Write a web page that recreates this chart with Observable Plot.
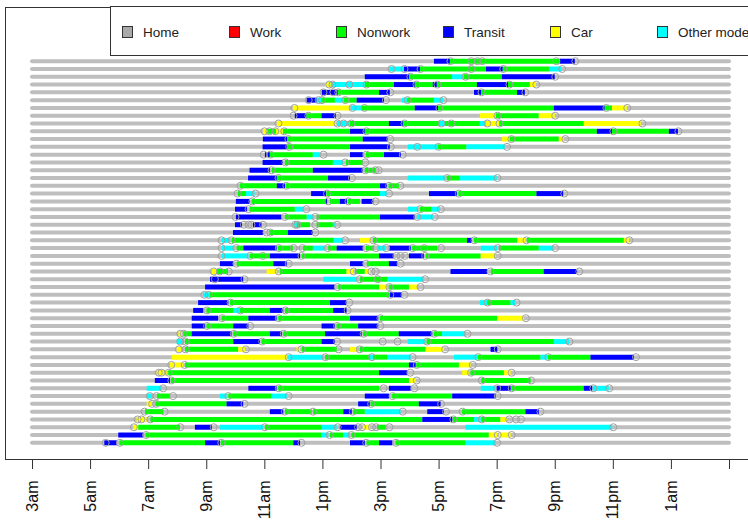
<!DOCTYPE html>
<html><head><meta charset="utf-8">
<script src="https://cdn.jsdelivr.net/npm/d3@7"></script>
<script src="https://cdn.jsdelivr.net/npm/@observablehq/plot@0.6"></script>
<style>
html,body{margin:0;padding:0;background:#fff;overflow:hidden;}
#wrap{position:relative;width:748px;height:520px;overflow:hidden;font-family:"Liberation Sans",Arial,sans-serif;}
#legend{position:absolute;left:110px;top:6px;height:50px;width:720px;border:1px solid #333;background:#fff;display:flex;align-items:center;padding-left:11px;padding-top:2px;box-sizing:border-box;}
.item{display:flex;align-items:center;width:107px;flex:none;font-size:13.5px;color:#222;white-space:nowrap;}
.sw{width:11px;height:12px;border:1px solid #333;box-sizing:border-box;margin-right:10px;flex:none;}
</style></head>
<body><div id="wrap"></div>
<script>
const dayStart = 3, dayEnd = 27;
const tickHours = [3,5,7,9,11,13,15,17,19,21,23,25,27];
const tickLabels = ["3am","5am","7am","9am","11am","1pm","3pm","5pm","7pm","9pm","11pm","1am",""];
const modeCodes = ["H","W","N","T","C","O"];
const modeNames = ["Home","Work","Nonwork","Transit","Car","Other mode"];
const modeColors = ["#a9a9a9","#ff0000","#00ff00","#0000ff","#ffff00","#00ffff"];
const homeBarColor = "#bebebe";

// one entry per person (top to bottom): [start hour, end hour, mode]
const segments = [
 [[16.84,17.39,"T"],[17.39,21.18,"N"],[21.18,21.69,"T"]],
 [[15.32,15.81,"O"],[15.81,16.36,"T"],[16.36,18.63,"N"],[18.63,19.21,"T"],[19.21,20.80,"N"],[20.80,21.24,"O"]],
 [[14.46,15.98,"T"],[15.98,17.46,"N"],[17.46,17.87,"O"],[17.87,19.18,"N"],[19.18,21.00,"T"]],
 [[13.09,13.29,"C"],[13.29,14.46,"O"],[14.46,15.46,"N"],[15.46,16.18,"T"],[16.18,16.80,"N"],[16.80,16.94,"T"],[16.94,18.32,"N"],[18.32,19.39,"T"],[19.39,20.14,"N"],[20.14,20.35,"C"]],
 [[12.98,13.53,"T"],[13.53,14.95,"N"],[14.95,15.32,"T"],[18.22,18.46,"T"],[18.46,19.70,"N"],[19.70,19.97,"T"]],
 [[12.46,12.80,"T"],[12.80,12.97,"O"],[12.97,13.43,"N"],[13.43,13.74,"O"],[13.74,14.18,"N"],[14.18,15.12,"T"],[15.74,15.91,"O"],[15.91,16.84,"N"],[16.84,17.15,"O"]],
 [[11.98,13.95,"C"],[13.98,14.36,"O"],[14.36,16.18,"N"],[16.18,16.98,"T"],[16.98,20.97,"N"],[20.97,22.72,"T"],[22.72,22.97,"N"],[22.97,23.48,"C"]],
 [[12.05,12.45,"T"],[12.45,12.97,"N"],[12.97,13.46,"T"],[18.42,18.97,"C"],[18.97,20.45,"N"],[20.45,21.00,"C"]],
 [[11.43,13.46,"C"],[13.50,13.95,"O"],[13.95,15.29,"N"],[15.29,15.77,"T"],[15.77,17.04,"N"],[17.04,17.22,"O"],[17.22,18.42,"N"],[18.42,18.63,"O"],[18.63,19.08,"C"],[19.08,22.00,"N"],[22.00,23.96,"C"]],
 [[10.95,11.12,"C"],[11.12,11.40,"N"],[11.40,11.64,"C"],[11.64,13.95,"N"],[13.95,14.46,"T"],[14.46,22.45,"N"],[22.45,22.97,"T"],[22.97,24.93,"N"],[24.93,25.24,"T"]],
 [[10.95,11.78,"T"],[11.78,14.39,"N"],[14.39,15.25,"T"],[19.18,19.45,"C"],[19.45,21.14,"N"],[21.14,21.31,"C"]],
 [[10.94,11.79,"T"],[11.79,13.95,"N"],[13.95,15.32,"T"],[15.94,16.98,"O"],[16.98,17.96,"N"],[17.96,19.28,"O"]],
 [[11.02,11.19,"T"],[11.19,12.67,"N"],[12.67,12.91,"O"],[13.95,14.39,"T"],[14.50,15.12,"N"],[15.12,15.70,"T"]],
 [[10.94,11.64,"T"],[11.71,13.36,"N"],[13.36,13.71,"O"],[13.81,14.39,"N"]],
 [[10.49,11.19,"T"],[11.26,12.67,"N"],[12.67,14.39,"T"],[14.46,14.84,"N"]],
 [[10.44,11.43,"T"],[11.43,13.19,"N"],[13.19,13.95,"T"],[15.94,17.22,"O"],[17.28,17.73,"N"],[17.73,19.00,"O"]],
 [[10.16,11.43,"N"],[11.43,11.71,"T"],[11.74,14.98,"N"],[14.98,15.22,"T"],[15.28,15.63,"N"]],
 [[10.09,10.37,"N"],[10.37,10.66,"O"],[12.61,13.12,"T"],[13.14,14.98,"N"],[14.98,15.22,"O"],[16.67,17.63,"T"],[17.68,20.37,"N"],[20.37,21.29,"T"]],
 [[10.02,10.50,"T"],[10.57,13.10,"N"],[13.10,13.16,"T"],[13.26,13.60,"N"],[13.60,13.84,"T"],[13.88,14.29,"N"],[14.35,14.75,"T"]],
 [[9.99,10.40,"T"],[10.50,12.05,"N"],[12.05,12.33,"O"],[15.94,16.29,"O"],[16.36,16.76,"N"],[16.76,17.04,"O"]],
 [[10.02,11.59,"T"],[11.71,12.46,"N"],[12.46,12.69,"O"],[12.80,14.98,"N"],[14.98,16.18,"T"],[16.25,16.81,"O"]],
 [[9.99,10.23,"T"],[10.61,10.90,"T"],[12.02,12.12,"O"],[12.12,12.57,"N"],[12.80,13.36,"N"],[13.36,13.46,"O"]],
 [[9.92,10.95,"T"],[11.19,11.81,"N"],[11.81,12.67,"T"]],
 [[9.54,9.82,"O"],[9.88,13.37,"N"],[13.37,13.71,"O"],[14.29,14.69,"C"],[14.74,17.98,"N"],[17.98,18.15,"T"],[18.22,19.71,"N"],[19.71,19.99,"C"],[20.04,23.38,"N"],[23.38,23.55,"C"]],
 [[9.54,9.93,"O"],[10.05,10.28,"N"],[10.28,11.42,"T"],[11.47,11.98,"N"],[12.33,12.67,"N"],[12.67,13.09,"O"],[13.20,13.49,"N"],[13.49,14.40,"T"],[14.50,14.77,"N"],[14.88,15.18,"O"],[15.29,16.04,"T"],[16.09,16.95,"N"],[18.45,19.02,"O"],[19.08,20.45,"N"],[20.45,20.97,"O"]],
 [[9.54,10.45,"O"],[10.50,11.19,"N"],[11.19,12.23,"T"],[12.29,14.95,"N"],[14.95,15.46,"T"],[15.98,16.49,"T"],[16.56,18.45,"N"],[18.45,18.96,"C"]],
 [[9.47,9.93,"T"],[10.05,11.31,"N"],[11.31,11.77,"T"],[13.95,14.40,"T"],[14.53,15.29,"N"],[15.29,15.58,"T"]],
 [[9.19,9.36,"C"],[9.37,9.75,"N"],[11.08,11.42,"C"],[11.54,13.83,"N"],[13.83,14.06,"C"],[14.12,14.46,"N"],[14.46,14.64,"C"],[17.41,18.67,"T"],[18.80,20.62,"N"],[20.62,21.77,"T"]],
 [[9.13,10.27,"T"],[13.03,14.18,"O"],[14.29,15.23,"N"],[15.23,16.49,"O"]],
 [[8.96,13.43,"T"],[13.54,14.95,"N"],[14.95,15.23,"C"],[15.29,15.98,"N"],[15.98,16.26,"C"]],
 [[8.90,9.13,"O"],[9.13,15.29,"N"],[15.32,15.74,"T"]],
 [[8.72,9.76,"T"],[9.82,13.26,"N"],[13.26,13.83,"T"],[18.42,18.67,"O"],[18.67,19.48,"N"],[19.48,19.65,"O"]],
 [[8.55,8.90,"T"],[9.01,9.93,"N"],[9.93,10.16,"O"],[10.16,11.19,"N"],[11.19,11.65,"T"],[11.71,13.37,"N"],[13.37,13.83,"T"]],
 [[8.50,9.41,"T"],[9.53,10.45,"N"],[10.45,11.42,"T"],[11.48,13.95,"N"],[13.95,14.92,"T"],[14.98,19.02,"N"],[19.02,19.94,"C"]],
 [[8.50,8.96,"T"],[9.01,9.93,"N"],[9.93,10.45,"T"],[12.97,13.43,"T"],[13.49,14.23,"N"],[14.23,14.92,"T"]],
 [[8.04,8.16,"C"],[8.21,8.50,"N"],[8.50,9.87,"T"],[9.93,11.19,"N"],[11.19,11.60,"T"],[11.65,13.09,"N"],[13.09,14.35,"T"],[14.40,15.63,"N"],[15.63,16.78,"T"],[16.84,17.12,"N"],[17.12,17.93,"O"]],
 [[7.98,8.19,"O"],[8.27,9.93,"N"],[9.93,10.85,"T"],[10.91,12.97,"N"],[12.97,13.43,"T"],[15.94,16.55,"O"],[16.59,20.97,"N"],[20.97,21.49,"O"]],
 [[7.98,8.16,"C"],[8.27,10.10,"N"],[10.10,10.33,"C"],[12.11,12.23,"C"],[12.29,13.49,"N"],[13.95,14.18,"C"],[14.29,16.55,"N"],[16.55,17.18,"C"],[18.79,19.02,"T"]],
 [[7.81,11.77,"C"],[11.82,13.03,"O"],[13.09,14.64,"N"],[14.64,14.74,"O"],[14.74,15.23,"N"],[15.23,16.04,"O"],[17.53,18.33,"O"],[18.35,20.51,"N"],[20.51,20.74,"O"],[20.76,22.23,"N"],[22.23,23.72,"T"]],
 [[7.75,8.21,"C"],[8.27,15.98,"N"],[15.98,16.21,"T"],[16.23,17.70,"N"],[17.70,18.10,"C"]],
 [[7.29,7.64,"C"],[7.69,14.95,"N"],[14.95,15.92,"T"],[17.81,18.04,"C"],[18.10,19.25,"N"],[19.25,19.48,"C"]],
 [[7.23,7.75,"T"],[7.78,15.98,"N"],[15.98,16.21,"C"],[18.47,20.17,"N"]],
 [[6.95,7.46,"O"],[10.45,11.42,"T"],[11.48,14.95,"N"],[15.29,16.04,"T"],[18.45,18.96,"O"],[19.00,19.48,"T"],[19.50,22.00,"N"],[22.00,22.29,"T"],[22.31,22.86,"O"]],
 [[6.95,7.12,"O"],[7.30,7.75,"N"],[9.47,9.70,"O"],[9.76,11.25,"N"],[11.25,11.77,"O"],[14.46,15.29,"T"],[15.40,17.47,"N"],[17.47,18.96,"T"]],
 [[6.95,7.12,"C"],[7.26,9.70,"N"],[9.70,10.27,"T"],[14.23,14.63,"T"],[14.66,16.32,"N"],[16.32,17.07,"T"]],
 [[6.89,7.52,"N"],[11.19,11.65,"T"],[11.71,12.63,"N"],[12.68,13.72,"N"],[13.72,14.01,"T"],[14.06,14.46,"N"],[14.46,15.69,"O"],[16.61,17.18,"T"],[17.81,19.99,"N"],[19.99,20.45,"T"]],
 [[6.60,6.95,"C"],[7.08,16.44,"N"],[16.44,17.47,"T"],[17.49,18.22,"N"],[18.22,18.45,"O"],[18.47,19.13,"N"],[19.13,19.36,"C"]],
 [[6.49,6.66,"C"],[6.66,8.09,"N"],[8.61,9.19,"T"],[9.47,10.96,"O"],[11.02,12.97,"N"],[12.97,13.49,"O"],[13.60,14.18,"T"],[14.40,14.64,"C"],[14.88,15.18,"N"],[17.93,22.98,"O"]],
 [[5.97,6.83,"T"],[6.91,12.97,"N"],[12.97,13.20,"O"],[13.26,13.72,"N"],[13.72,13.95,"O"],[14.00,18.73,"N"],[18.73,19.02,"C"],[19.08,19.48,"C"]],
 [[5.49,5.92,"T"],[6.01,8.96,"N"],[8.96,9.47,"T"],[9.50,12.00,"N"],[12.00,12.23,"T"],[13.95,14.46,"T"],[14.52,14.95,"N"],[14.95,15.41,"T"],[15.52,17.93,"N"],[17.93,18.97,"O"]]
];

// stop times (open circles), one list per person
const stops = [
 [17.39,18.11,18.32,18.49,21.04,21.69],
 [15.36,15.81,16.36,18.11,19.21,21.24],
 [16.01,17.91,21.00],
 [13.22,13.33,13.91,14.50,16.22,16.94,19.42,20.35],
 [13.02,13.36,13.53,15.32,18.46,19.97],
 [12.51,12.85,12.97,13.77,15.17,15.91,17.15],
 [12.02,14.02,14.43,17.01,22.76,23.48],
 [11.99,12.50,13.50,19.01,21.00],
 [11.47,13.50,13.71,13.98,15.81,17.08,17.42,18.66,19.08,24.00],
 [10.99,11.16,11.36,11.67,14.50,23.00,25.24],
 [11.81,15.32,19.49,21.35],
 [11.84,15.34,16.25,16.98,19.34],
 [10.96,11.19,13.02,14.50,15.75],
 [11.71,13.77,14.46],
 [11.23,14.46,14.81,14.92],
 [11.47,14.00,17.28,19.01],
 [10.16,11.74,15.28,15.67],
 [10.06,10.68,13.14,15.28,17.68,21.31],
 [10.57,13.19,13.88,14.81],
 [10.44,12.43,16.36,17.06],
 [9.99,11.69,12.74,16.25,16.85],
 [10.28,10.44,10.54,10.94,12.05,12.12,12.74,13.49],
 [11.06,11.19,12.74],
 [9.51,9.85,13.77,14.74,18.22,20.01,23.55],
 [9.51,10.02,11.48,11.99,12.30,13.17,14.49,14.83,15.18,16.09,16.49,17.07,19.02,21.00],
 [9.51,10.50,10.93,12.26,15.53,15.67,15.83,16.52,19.02],
 [10.02,11.82,14.49,15.67],
 [9.24,9.45,9.76,11.48,14.06,14.67,14.81,18.77,21.83],
 [9.28,10.30,14.27,14.89,16.52],
 [13.51,15.29,16.36],
 [8.92,9.07,15.32,15.81],
 [9.82,13.91,18.67,19.67],
 [9.01,10.16,11.71,13.85],
 [9.53,11.48,14.98,19.99],
 [9.01,10.50,13.49,14.98],
 [8.09,8.21,9.93,11.65,14.40,16.84,17.98],
 [8.09,8.27,10.91,13.49,15.06,15.57,16.59,21.49],
 [8.04,8.27,10.35,12.26,13.54,14.27,17.21,19.02],
 [11.82,13.09,14.69,16.09,18.35,20.76,23.78],
 [7.78,8.24,16.23,18.16],
 [7.35,7.44,7.69,16.01,18.10,19.50],
 [7.78,16.23,18.47,20.17],
 [7.50,11.48,15.09,16.15,19.00,19.50,22.31,22.86],
 [7.04,7.27,7.84,9.74,11.82,15.40,19.02],
 [7.12,7.26,10.30,14.66,17.07],
 [6.86,7.55,11.69,12.66,14.03,15.75,17.24,17.81,20.49],
 [6.62,6.75,7.06,17.49,18.47,19.42,19.65,19.82],
 [6.49,8.09,9.24,11.00,13.51,14.21,14.35,14.69,14.83,15.29,23.00],
 [6.91,13.23,13.98,19.02,19.50],
 [5.52,6.01,9.50,12.26,14.49,15.52,19.00]
];

const rows = segments.map((_, i) => i);
const segData = segments.flatMap((row, i) => row.map(([s, e, m]) => ({row: i, s, e, m})));
const stopData = stops.flatMap((row, i) => row.map(t => ({row: i, t})));

const chart = Plot.plot({
  width: 748, height: 520,
  marginLeft: 5, marginRight: -12, marginTop: 7, marginBottom: 61,
  style: {fontFamily: "'Liberation Sans', Arial, sans-serif", fontSize: "16px", background: "#fff"},
  x: {domain: [dayStart, dayEnd], range: [32, 729]},
  y: {domain: [0, rows.length - 1], range: [60.7, 442.3], axis: null},
  color: {domain: modeCodes, range: modeColors},
  marks: [
    Plot.frame({stroke: "#333"}),
    Plot.ruleY(rows, {y: d => d, x1: dayStart, x2: dayEnd, stroke: homeBarColor, strokeWidth: 4, strokeLinecap: "round"}),
    Plot.ruleY(segData, {y: "row", x1: "s", x2: "e", stroke: "m", strokeWidth: 5, strokeLinecap: "butt"}),
    Plot.dot(stopData, {x: "t", y: "row", r: 3.5, stroke: "#a0a0a0", fill: "none", strokeWidth: 1}),
    Plot.axisX({ticks: tickHours, tickFormat: d => tickLabels[tickHours.indexOf(d)], tickRotate: -90,
      tickSize: 10, tickPadding: 11, textAnchor: "end", lineAnchor: "middle", stroke: "#333", fill: "#111", fontSize: 16})
  ]
});

const wrap = document.getElementById("wrap");
wrap.appendChild(chart);
const legend = document.createElement("div");
legend.id = "legend";
modeNames.forEach((name, i) => {
  const item = document.createElement("div");
  item.className = "item";
  const sw = document.createElement("span");
  sw.className = "sw";
  sw.style.background = modeColors[i];
  const label = document.createElement("span");
  label.textContent = name;
  item.appendChild(sw);
  item.appendChild(label);
  legend.appendChild(item);
});
wrap.appendChild(legend);
</script></body></html>
